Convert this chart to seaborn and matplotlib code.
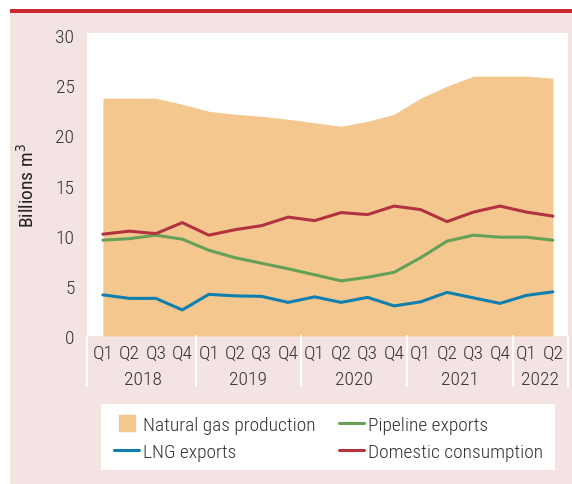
import matplotlib
matplotlib.use("Agg")
import matplotlib.pyplot as plt
import seaborn as sns
import pandas as pd
from matplotlib.patches import Rectangle
from matplotlib.lines import Line2D
import matplotlib.transforms as mtransforms

# ---- data ----
quarters = ["Q1", "Q2", "Q3", "Q4", "Q1", "Q2", "Q3", "Q4", "Q1", "Q2", "Q3", "Q4",
            "Q1", "Q2", "Q3", "Q4", "Q1", "Q2"]
years = ["2018", "2019", "2020", "2021", "2022"]
year_quarter_counts = [4, 4, 4, 4, 2]
production = [23.7, 23.7, 23.7, 23.1, 22.4, 22.1, 21.9, 21.6, 21.25, 20.9,
              21.4, 22.1, 23.7, 24.9, 25.9, 25.9, 25.9, 25.7]
pipeline = [9.55, 9.7, 10.05, 9.65, 8.55, 7.8, 7.25, 6.7, 6.1, 5.5,
            5.85, 6.35, 7.8, 9.45, 10.05, 9.85, 9.85, 9.55]
lng = [4.1, 3.75, 3.75, 2.6, 4.15, 4.0, 3.95, 3.35, 3.9, 3.35,
       3.85, 3.0, 3.4, 4.35, 3.8, 3.25, 4.05, 4.4]
domestic = [10.15, 10.45, 10.2, 11.3, 10.05, 10.6, 11.0, 11.85, 11.5, 12.3,
            12.1, 12.95, 12.6, 11.4, 12.35, 12.95, 12.35, 11.95]

C_FILL = "#f4c78f"
C_GREEN = "#64a157"
C_BLUE = "#0f7fae"
C_RED = "#b2323f"
C_PINK = "#f3e3e2"
C_TOPLINE = "#c8282f"
C_TEXT = "#333333"

sns.set_theme(style="white")
plt.rcParams["font.family"] = ["Roboto Condensed", "Roboto", "DejaVu Sans"]
plt.rcParams["font.stretch"] = "condensed"
plt.rcParams["font.weight"] = "light"
FS = 14

W, H = 572, 485
fig = plt.figure(figsize=(W / 100, H / 100), dpi=100)
fig.patch.set_facecolor("white")

def fx(px):
    return px / W

def fy(py):
    return 1 - py / H

# background panel
fig.add_artist(Rectangle((fx(10), fy(485)), fx(562), 472 / H,
                         transform=fig.transFigure, facecolor=C_PINK,
                         edgecolor="none", zorder=0))
fig.add_artist(Rectangle((fx(10), fy(13.5)), fx(562), 3.5 / H,
                         transform=fig.transFigure, facecolor=C_TOPLINE,
                         edgecolor="none", zorder=1))

ax = fig.add_axes([fx(87), fy(337), fx(568 - 87), (337 - 34) / H])
ax.set_facecolor("white")

idx = list(range(len(quarters)))
df = pd.DataFrame({"i": idx, "production": production, "pipeline": pipeline,
                   "lng": lng, "domestic": domestic})

ax.fill_between(df["i"], 0, df["production"], color=C_FILL, linewidth=0, zorder=1)
sns.lineplot(data=df, x="i", y="pipeline", ax=ax, color=C_GREEN, linewidth=2.2, zorder=3)
sns.lineplot(data=df, x="i", y="lng", ax=ax, color=C_BLUE, linewidth=2.2, zorder=3)
sns.lineplot(data=df, x="i", y="domestic", ax=ax, color=C_RED, linewidth=2.2, zorder=3)

ax.set_xlim(-0.6, 17.57)
ax.set_ylim(0, 30.2)
ax.set_yticks([0, 5, 10, 15, 20, 25, 30])
ax.set_yticklabels(["0", "5", "10", "15", "20", "25", "30"], fontsize=FS, color=C_TEXT)
ax.set_xticks(idx)
ax.set_xticklabels(quarters, fontsize=FS, color=C_TEXT)
ax.tick_params(axis="both", length=0)
ax.tick_params(axis="y", pad=9)
ax.tick_params(axis="x", pad=6)
ax.set_xlabel("")
ax.set_ylabel("Billions m$^3$", fontsize=FS, color="#222222", labelpad=13,
              fontweight="normal")
for s in ax.spines.values():
    s.set_visible(False)
ax.grid(False)

# year labels and separators
trans = mtransforms.blended_transform_factory(ax.transData, ax.transAxes)
start = 0
seps = [-0.6]
for yr, n in zip(years, year_quarter_counts):
    center = start + (n - 1) / 2
    ax.text(center, -43 / 303, yr, transform=trans, ha="center", va="center",
            fontsize=FS, color=C_TEXT)
    start += n
    seps.append(start - 0.5 if start < len(quarters) else 17.57)
for s in seps:
    ax.plot([s, s], [0, -50 / 303], transform=trans, color="white",
            linewidth=1.5, clip_on=False, zorder=5)

# legend box
fig.add_artist(Rectangle((fx(101), fy(471)), fx(555 - 101), (471 - 405) / H,
                         transform=fig.transFigure, facecolor="white",
                         edgecolor="none", zorder=1))
handles = [
    Line2D([], [], marker="s", markersize=12, color=C_FILL, linestyle="none"),
    Line2D([], [], color=C_BLUE, linewidth=2.2),
    Line2D([], [], color=C_GREEN, linewidth=2.2),
    Line2D([], [], color=C_RED, linewidth=2.2),
]
labels = ["Natural gas production", "LNG exports", "Pipeline exports",
          "Domestic consumption"]
leg = fig.legend(handles, labels, ncol=2, loc="upper left",
                 bbox_to_anchor=(fx(114), fy(417)), frameon=False,
                 fontsize=FS, handlelength=1.3, handletextpad=0.2,
                 columnspacing=1.2, labelspacing=0.45, borderaxespad=0,
                 borderpad=0)
for t in leg.get_texts():
    t.set_color(C_TEXT)

fig.savefig("out.png", dpi=100, facecolor=fig.get_facecolor())
